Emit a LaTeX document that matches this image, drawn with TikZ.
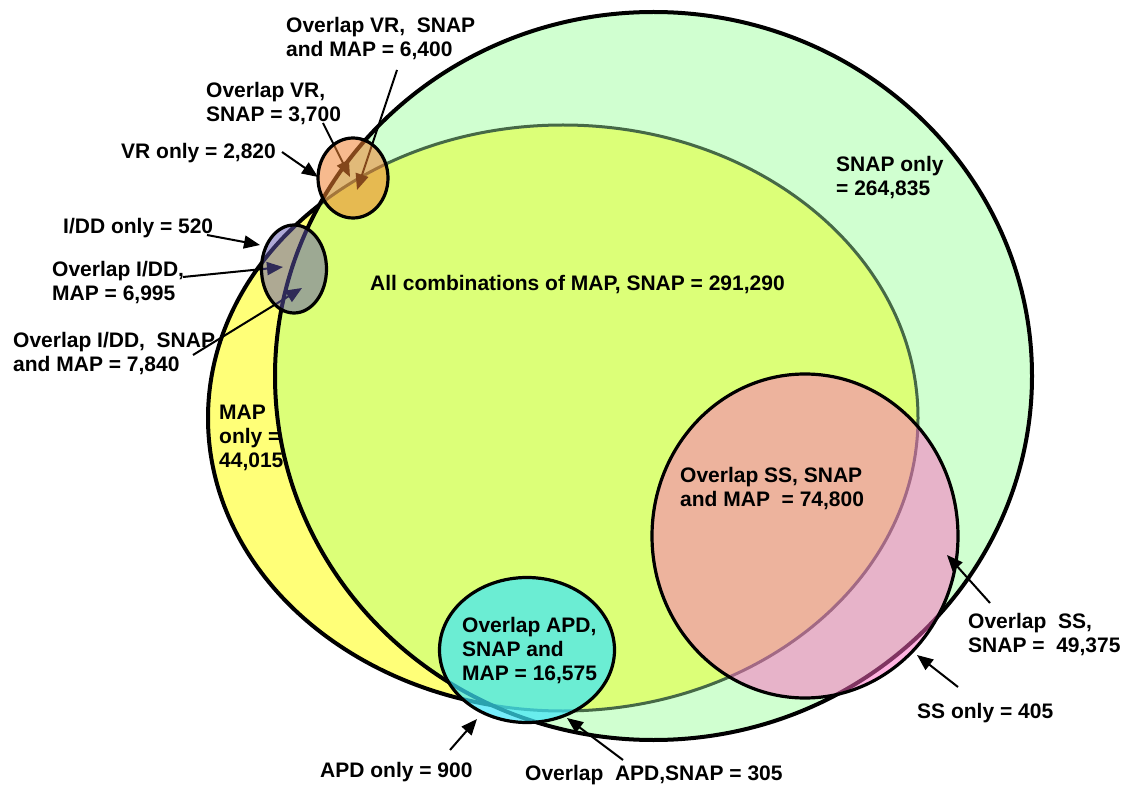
\documentclass[tikz,border=0pt]{standalone}
\usepackage{fontspec}
\setmainfont{Liberation Sans}
\usetikzlibrary{arrows.meta}
\definecolor{mapyellow}{RGB}{255,255,120}
\definecolor{snapgreen}{RGB}{208,255,208}
\definecolor{bothgreen}{RGB}{220,255,120}
\definecolor{mapline}{RGB}{70,105,70}
\definecolor{sspink}{RGB}{255,105,195}
\definecolor{apdcyan}{RGB}{60,230,250}
\definecolor{vrorange}{RGB}{240,130,50}
\definecolor{iddpurple}{RGB}{95,85,175}
\newcommand{\mapshape}{(563,418) ellipse [x radius=355, y radius=293]}
\newcommand{\snapshape}{(653.5,376) ellipse [x radius=378.5, y radius=364]}
\begin{document}
\begin{tikzpicture}[x=1pt,y=-1pt,
  lbl/.style={anchor=north west, inner sep=0pt, align=left, font=\fontsize{21}{24}\selectfont\bfseries},
  arr/.style={line width=2pt, -{Triangle[length=16pt,width=13pt]}},
  thickline/.style={line width=4pt},
  circline/.style={line width=3.2pt}]
\useasboundingbox (0,0) rectangle (1125,786);
% MAP
\fill[mapyellow] \mapshape;
\draw[thickline] \mapshape;
% SNAP
\fill[snapgreen] \snapshape;
\begin{scope}
  \clip \snapshape;
  \fill[bothgreen] \mapshape;
  \draw[mapline, line width=3pt] \mapshape;
\end{scope}
\draw[thickline] \snapshape;
% SS
\fill[sspink, fill opacity=0.5] (805,536) ellipse [x radius=153, y radius=162];
\draw[circline] (805,536) ellipse [x radius=153, y radius=162];
% APD
\fill[apdcyan, fill opacity=0.7] (527,650) ellipse [x radius=87.5, y radius=72.5];
\draw[circline] (527,650) ellipse [x radius=87.5, y radius=72.5];
% arrow coordinates
\coordinate (a1s) at (397,70);  \coordinate (a1e) at (357,190);
\coordinate (a2s) at (323,123); \coordinate (a2e) at (350,177);
\coordinate (a3s) at (282,152); \coordinate (a3e) at (318,177);
\coordinate (a4s) at (207,235); \coordinate (a4e) at (260,245);
\coordinate (a5s) at (183,277); \coordinate (a5e) at (283,267);
\coordinate (a6s) at (193,355); \coordinate (a6e) at (302,288);
\coordinate (a7s) at (450,750); \coordinate (a7e) at (477,719);
\coordinate (a8s) at (623,760); \coordinate (a8e) at (567,718);
\coordinate (a9s) at (990,603); \coordinate (a9e) at (947,555);
\coordinate (a10s) at (958,687); \coordinate (a10e) at (917,655);
\foreach \i in {1,...,10} {\draw[arr] (a\i s) -- (a\i e);}
% VR
\fill[vrorange, fill opacity=0.55] (353,178) ellipse [x radius=35, y radius=40];
\draw[circline] (353,178) ellipse [x radius=35, y radius=40];
% I/DD
\fill[iddpurple, fill opacity=0.5] (294,269) ellipse [x radius=32.5, y radius=44];
\draw[circline] (294,269) ellipse [x radius=32.5, y radius=44];
% labels (top = first baseline - 15)
\node[lbl] (ovrsm) at (286,17) {Overlap VR,~ SNAP\\and MAP = 6,400};
\node[lbl] (ovrs) at (206,82) {Overlap VR,\\SNAP = 3,700};
\node[lbl] (vronly) at (121,143) {VR only = 2,820};
\node[lbl] (iddonly) at (63,218) {I/DD only = 520};
\node[lbl] (oiddm) at (52,261) {Overlap I/DD,\\MAP = 6,995};
\node[lbl] (oiddsm) at (13,332) {Overlap I/DD,~ SNAP\\and MAP = 7,840};
\node[lbl] (maponly) at (219,405) {MAP\\only =\\44,015};
\node[lbl] (all) at (370,275) {All combinations of MAP, SNAP = 291,290};
\node[lbl] (snaponly) at (836,156) {SNAP only\\= 264,835};
\node[lbl] (ossm) at (680,467) {Overlap SS, SNAP\\and MAP~ = 74,800};
\node[lbl] (oss) at (968,613) {Overlap~ SS,\\SNAP =~ 49,375};
\node[lbl] (ssonly) at (917,703) {SS only = 405};
\node[lbl] (oapdsm) at (462,617) {Overlap APD,\\SNAP and\\MAP = 16,575};
\node[lbl] (apdonly) at (320,762) {APD only = 900};
\node[lbl] (oapds) at (525,765) {Overlap~ APD,SNAP = 305};
\end{tikzpicture}
\end{document}
